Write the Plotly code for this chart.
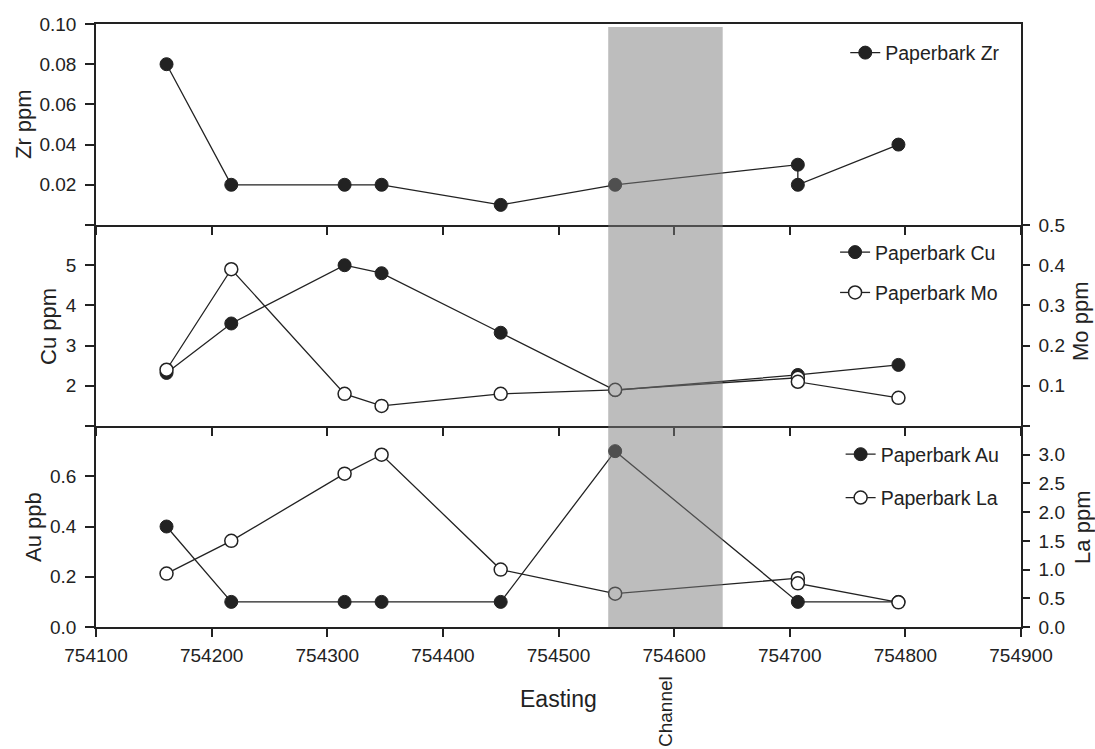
import plotly.graph_objects as go

# Sample eastings along the traverse (one station was sampled twice)
easting_zr = [754161, 754217, 754315, 754347, 754450, 754549, 754707, 754707, 754794]
zr_ppm = [0.08, 0.02, 0.02, 0.02, 0.01, 0.02, 0.03, 0.02, 0.04]

easting_cu = [754161, 754217, 754315, 754347, 754450, 754549, 754707, 754794]
cu_ppm = [2.32, 3.55, 5.0, 4.8, 3.32, 1.89, 2.27, 2.52]

easting_mo = [754161, 754217, 754315, 754347, 754450, 754549, 754707, 754707, 754794]
mo_ppm = [0.14, 0.39, 0.08, 0.05, 0.08, 0.09, 0.12, 0.11, 0.07]

easting_au = [754161, 754217, 754315, 754347, 754450, 754549, 754707, 754794]
au_ppb = [0.40, 0.10, 0.10, 0.10, 0.10, 0.70, 0.10, 0.10]

easting_la = [754161, 754217, 754315, 754347, 754450, 754549, 754707, 754707, 754794]
la_ppm = [0.93, 1.50, 2.67, 3.0, 1.0, 0.58, 0.85, 0.76, 0.43]

# Extent of the palaeochannel along the traverse
channel_start, channel_end = 754543, 754642

x_ticks = list(range(754100, 754901, 100))

INK = "#222222"
FONT = "Liberation Sans, Arial, sans-serif"

filled = dict(size=13, color=INK, line=dict(color=INK, width=1))
hollow = dict(size=13, color="white", line=dict(color=INK, width=1.5))
line_style = dict(color=INK, width=1.3)

fig = go.Figure()

fig.add_trace(go.Scatter(x=easting_zr, y=zr_ppm, mode="lines+markers", name="Paperbark Zr",
                         line=line_style, marker=filled, xaxis="x", yaxis="y", legend="legend"))

fig.add_trace(go.Scatter(x=easting_cu, y=cu_ppm, mode="lines+markers", name="Paperbark Cu",
                         line=line_style, marker=filled, xaxis="x2", yaxis="y2",
                         legend="legend2", legendgroup="cu"))
fig.add_trace(go.Scatter(x=easting_mo, y=mo_ppm, mode="lines+markers", name="Paperbark Mo",
                         line=line_style, marker=hollow, xaxis="x2", yaxis="y4",
                         legend="legend2", legendgroup="mo"))

fig.add_trace(go.Scatter(x=easting_au, y=au_ppb, mode="lines+markers", name="Paperbark Au",
                         line=line_style, marker=filled, xaxis="x3", yaxis="y3",
                         legend="legend3", legendgroup="au"))
fig.add_trace(go.Scatter(x=easting_la, y=la_ppm, mode="lines+markers", name="Paperbark La",
                         line=line_style, marker=hollow, xaxis="x3", yaxis="y5",
                         legend="legend3", legendgroup="la"))

tick_font = dict(family=FONT, size=19, color=INK)

x_common = dict(range=[754100, 754900], tickvals=x_ticks, ticktext=[str(v) for v in x_ticks],
                ticks="outside", ticklen=8,
                tickwidth=1.5, tickcolor=INK, showline=True, linewidth=1.5, linecolor=INK,
                showgrid=False, zeroline=False, tickfont=tick_font, ticklabelstandoff=2)

y_common = dict(ticks="outside", ticklen=9, tickwidth=1.5, tickcolor=INK, showline=True,
                linewidth=1.5, linecolor=INK, showgrid=False, zeroline=False,
                tickfont=tick_font, ticklabelstandoff=5)

zr_ticks = [0, 0.02, 0.04, 0.06, 0.08, 0.10]
cu_ticks = [1, 2, 3, 4, 5, 6]
mo_ticks = [0, 0.1, 0.2, 0.3, 0.4, 0.5]
au_ticks = [0, 0.2, 0.4, 0.6, 0.8]
la_ticks = [0, 0.5, 1.0, 1.5, 2.0, 2.5, 3.0, 3.5]

fig.update_layout(
    width=1095, height=749,
    margin=dict(l=96, r=74, t=24, b=122),
    paper_bgcolor="white", plot_bgcolor="rgba(0,0,0,0)",
    font=dict(family=FONT, size=19, color=INK),
    xaxis=dict(**x_common, anchor="y", showticklabels=False, mirror=True),
    xaxis2=dict(**x_common, anchor="y2", showticklabels=False),
    xaxis3=dict(**x_common, anchor="y3", showticklabels=True),
    yaxis=dict(**y_common, domain=[0.6667, 1.0], range=[0, 0.1], anchor="x", mirror=True,
               tickvals=zr_ticks, ticktext=[""] + [f"{v:.2f}" for v in zr_ticks[1:]]),
    yaxis2=dict(**y_common, domain=[0.3333, 0.6667], range=[1, 6], anchor="x2",
                tickvals=cu_ticks, ticktext=[""] + [str(v) for v in cu_ticks[1:-1]] + [""]),
    yaxis4=dict(**{**y_common, "ticklen": 7}, overlaying="y2", side="right", range=[0, 0.5],
                anchor="x2", tickvals=mo_ticks,
                ticktext=[""] + [f"{v:.1f}" for v in mo_ticks[1:]]),
    yaxis3=dict(**y_common, domain=[0.0, 0.3333], range=[0, 0.8], anchor="x3",
                tickvals=au_ticks, ticktext=[f"{v:.1f}" for v in au_ticks[:-1]] + [""]),
    yaxis5=dict(**{**y_common, "ticklen": 7}, overlaying="y3", side="right", range=[0, 3.5],
                anchor="x3", tickvals=la_ticks,
                ticktext=[f"{v:.1f}" for v in la_ticks[:-1]] + [""]),
    legend=dict(x=0.81, y=0.952, xanchor="left", yanchor="middle", bgcolor="rgba(0,0,0,0)",
                font=dict(size=19.5), itemclick=False, itemdoubleclick=False),
    legend2=dict(x=0.799, y=0.588, xanchor="left", yanchor="middle", bgcolor="rgba(0,0,0,0)",
                 font=dict(size=19.5), tracegroupgap=12, itemclick=False, itemdoubleclick=False),
    legend3=dict(x=0.805, y=0.2504, xanchor="left", yanchor="middle", bgcolor="rgba(0,0,0,0)",
                 font=dict(size=19.5), tracegroupgap=15, itemclick=False, itemdoubleclick=False),
    showlegend=True,
)

# Palaeochannel band, translucent grey over the series
fig.add_shape(type="rect", xref="x3", yref="paper", x0=channel_start, x1=channel_end,
              y0=0, y1=0.995, fillcolor="rgb(124,124,124)", opacity=0.5,
              line=dict(width=0), layer="above")

title_font = dict(family=FONT, size=22, color=INK)
annotations = [
    dict(text="Zr ppm", x=-0.079, y=0.834, textangle=-90),
    dict(text="Cu ppm", x=-0.052, y=0.499, textangle=-90),
    dict(text="Au ppb", x=-0.067, y=0.166, textangle=-90),
    dict(text="Mo ppm", x=1.065, y=0.506, textangle=-90),
    dict(text="La ppm", x=1.067, y=0.166, textangle=-90),
    dict(text="Easting", x=0.5, y=-0.119, textangle=0, size=23),
]
for a in annotations:
    size = a.pop("size", 22)
    fig.add_annotation(xref="paper", yref="paper", xanchor="center", yanchor="middle",
                       showarrow=False, font=dict(title_font, size=size), **a)

fig.add_annotation(text="Channel", xref="x3", yref="paper", x=754592, y=-0.1395,
                   textangle=-90, showarrow=False, xanchor="center", yanchor="middle",
                   font=dict(family=FONT, size=19, color=INK))

fig.write_html("out.html")
